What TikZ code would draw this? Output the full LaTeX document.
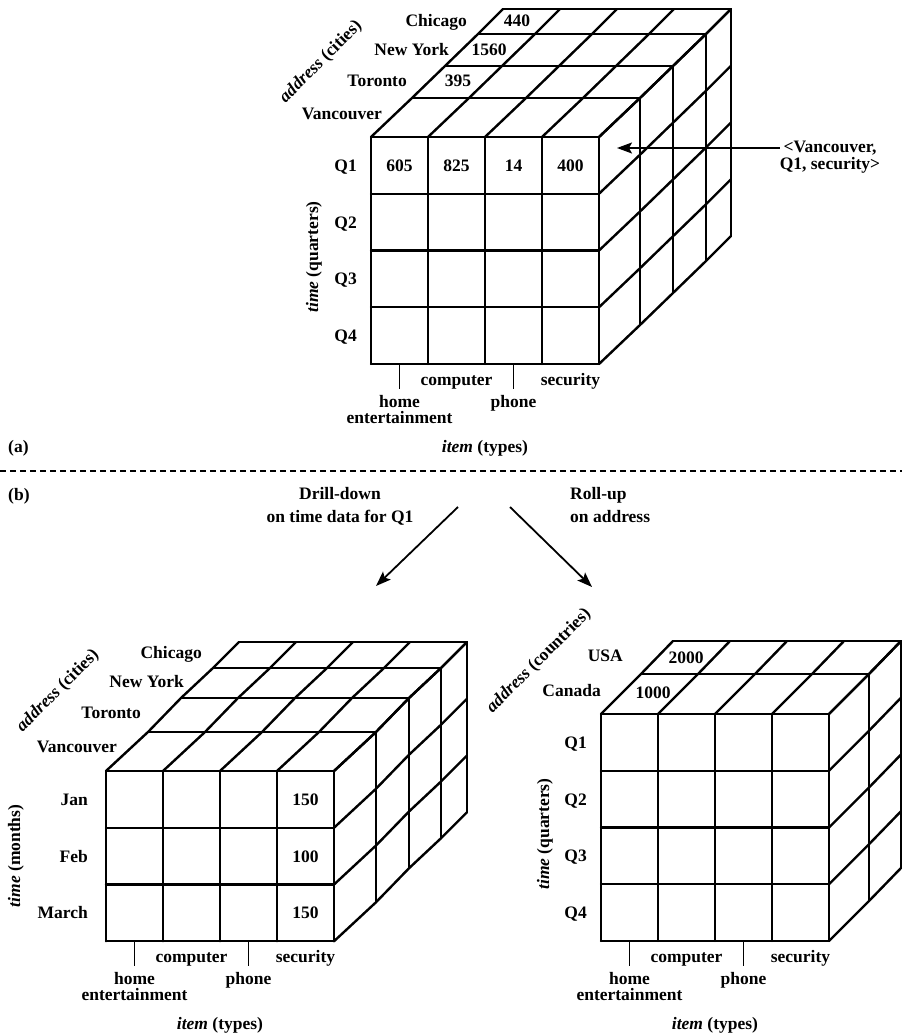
\documentclass[tikz,border=0pt]{standalone}
\usepackage{fontspec}
\setmainfont{Liberation Serif}
\usetikzlibrary{arrows.meta}

\tikzset{
  cube/.style={line width=2.4pt, line cap=round},
  lab/.style={inner sep=0pt, font=\fontsize{17.5}{17.5}\selectfont\bfseries},
  tick/.style={line width=1.2pt},
  arr/.style={line width=1.8pt, -{Stealth[length=15pt,width=11pt,inset=3pt]}},
  sep/.style={line width=2pt, dash pattern=on 6pt off 4pt},
}

\def\cw{57}    % cell width
\def\ch{56.75} % cell height

% faces of a cube: #1 rows on the front face, #2 offsets dx/dy of the layers behind it
\newcommand{\drawcube}[2]{%
  \foreach \i in {0,...,4} \draw[cube] (\i*\cw,0) -- (\i*\cw,#1*\ch);
  \foreach \j in {0,...,#1} \draw[cube] (0,\j*\ch) -- (4*\cw,\j*\ch);
  \foreach \dx/\dy [remember=\dx as \px (initially 0),
                    remember=\dy as \py (initially 0)] in {#2} {
    \draw[cube] (\dx,-\dy) -- (4*\cw+\dx,-\dy) -- (4*\cw+\dx,#1*\ch-\dy);
    \foreach \i in {0,...,4}
      \draw[cube] (\i*\cw+\px,-\py) -- (\i*\cw+\dx,-\dy);
    \foreach \j in {0,...,#1}
      \draw[cube] (4*\cw+\px,\j*\ch-\py) -- (4*\cw+\dx,\j*\ch-\dy);
  }%
}

% item axis below the front face, #1 rows
\newcommand{\itemaxis}[1]{%
  \draw[tick] (0.5*\cw,#1*\ch) -- ++(0,25);
  \draw[tick] (2.5*\cw,#1*\ch) -- ++(0,25);
  \node[lab, anchor=base] (comp) at (1.5*\cw,#1*\ch+21) {computer};
  \node[lab, anchor=base] (sec) at (3.5*\cw,#1*\ch+21) {security};
  \node[lab, anchor=base] (home) at (0.5*\cw,#1*\ch+43) {home};
  \node[lab, anchor=base] (ent) at (0.5*\cw,#1*\ch+59) {entertainment};
  \node[lab, anchor=base] (phone) at (2.5*\cw,#1*\ch+43) {phone};
  \node[lab, anchor=base] (item) at (2*\cw,#1*\ch+88) {\textit{item} (types)};
}

\begin{document}
\begin{tikzpicture}[x=1pt,y=-1pt]
  \useasboundingbox (0,0) rectangle (902,1036);

  % (a) the cube
  \begin{scope}[shift={(371,137)}, name prefix=a-]
    \drawcube{4}{41/39,74/71,107/103,132/128}
    \itemaxis{4}
    \foreach \c/\x/\y [count=\k] in {Chicago/96/-110, New York/78/-82,
                                     Toronto/36/-51, Vancouver/11/-18}
      \node[lab, anchor=base east] (c\k) at (\x,\y) {\c};
    \node[lab, anchor=base] (chi) at (146,-110) {440};
    \node[lab, anchor=base] (ny) at (118,-82) {1560};
    \node[lab, anchor=base] (tor) at (87,-51) {395};
    \foreach \v [count=\k] in {605,825,14,400}
      \node[lab, anchor=base] (v\k) at ({(\k-0.5)*\cw},34) {\v};
    \foreach \q [count=\k] in {Q1,Q2,Q3,Q4}
      \node[lab, anchor=base east] (q\k) at (-14,{(\k-0.5)*\ch+6}) {\q};
    \node[lab, rotate=45] (addr) at (-50,-75) {\textit{address} (cities)};
    \node[lab, rotate=90] (time) at (-57,120) {\textit{time} (quarters)};
  \end{scope}

  % the cell pointed at
  \coordinate (vcell) at (617,148);
  \node[lab, align=center] (vq) at (830,157) {<Vancouver,\\Q1, security>};
  \draw[arr] (vq.west |- vcell) -- (vcell);

  \node[lab, anchor=base west] (pa) at (8,452) {(a)};
  \draw[sep] (0,471) -- (902,471);
  \node[lab, anchor=base west] (pb) at (8,500) {(b)};

  % the two operations
  \node[lab, anchor=base] (dd) at (340,499) {Drill-down};
  \node[lab, anchor=base] (ddon) at (340,522) {on time data for Q1};
  \node[lab, anchor=base west] (ru) at (570,499) {Roll-up};
  \node[lab, anchor=base west] (ruon) at (570,522) {on address};
  \coordinate (ddfrom) at (458,507);
  \coordinate (ddto) at (376,586);
  \coordinate (rufrom) at (510,507);
  \coordinate (ruto) at (592,587);
  \draw[arr] (ddfrom) -- (ddto);
  \draw[arr] (rufrom) -- (ruto);

  % drill-down: months
  \begin{scope}[shift={(106,771)}, name prefix=d-]
    \drawcube{3}{42/39,75/73,107/103,133/129}
    \itemaxis{3}
    \foreach \c/\x/\y [count=\k] in {Chicago/96/-113, New York/78/-84,
                                     Toronto/35/-53, Vancouver/11/-19}
      \node[lab, anchor=base east] (c\k) at (\x,\y) {\c};
    \foreach \m [count=\k] in {Jan,Feb,March}
      \node[lab, anchor=base east] (m\k) at (-18,{(\k-0.5)*\ch+6}) {\m};
    \foreach \v [count=\k] in {150,100,150}
      \node[lab, anchor=base] (s\k) at (3.5*\cw,{(\k-0.5)*\ch+6}) {\v};
    \node[lab, rotate=45] (addr) at (-48,-80) {\textit{address} (cities)};
    \node[lab, rotate=90] (time) at (-90,85) {\textit{time} (months)};
  \end{scope}

  % roll-up: countries
  \begin{scope}[shift={(601,714)}, name prefix=r-]
    \drawcube{4}{40/40,72/73}
    \itemaxis{4}
    \node[lab, anchor=base east] (usa) at (22,-53) {USA};
    \node[lab, anchor=base east] (can) at (0,-18) {Canada};
    \node[lab, anchor=base] (usav) at (85,-51) {2000};
    \node[lab, anchor=base] (canv) at (52,-16) {1000};
    \foreach \q [count=\k] in {Q1,Q2,Q3,Q4}
      \node[lab, anchor=base east] (q\k) at (-14,{(\k-0.5)*\ch+6}) {\q};
    \node[lab, rotate=45] (addr) at (-62,-53) {\textit{address} (countries)};
    \node[lab, rotate=90] (time) at (-56,120) {\textit{time} (quarters)};
  \end{scope}
\end{tikzpicture}
\end{document}
